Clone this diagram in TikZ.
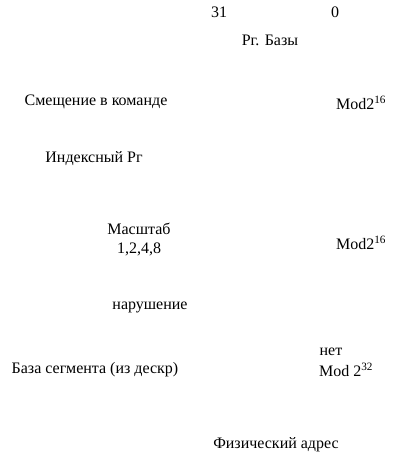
\documentclass[tikz,border=0pt]{standalone}
\usepackage{fontspec}
\setmainfont{Liberation Serif}
\usepackage{xcolor}
\definecolor{cText}{HTML}{000000}
\usetikzlibrary{positioning}
\tikzset{
  node-lbl/.style={inner sep=0pt,text=cText,align=center,font=\fontsize{16}{19}\selectfont},
  node-bit/.style={node-lbl},
}

\begin{document}
\begin{tikzpicture}[x=1pt,y=-1pt]
  \useasboundingbox (0,0) rectangle (406,466);
  \node[node-bit] (b31) at (219,12) {31};
  \node[node-bit] (b0)  at (335,12) {0};
  \node[node-lbl] (base) at (270,40) {Рг. Базы};
  \node[node-lbl] (disp) at (96,102) {Смещение в команде};
  \node[node-lbl] (mod1) at (361,103) {Mod2\textsuperscript{16}};
  \node[node-lbl] (idx)  at (94,159) {Индексный Рг};
  \node[node-lbl] (scale) at (139,240) {Масштаб\\1,2,4,8};
  \node[node-lbl] (mod2) at (361,243) {Mod2\textsuperscript{16}};
  \node[node-lbl] (viol) at (150,307) {нарушение};
  \node[node-lbl] (no)   at (331,352) {нет};
  \node[node-lbl] (seg)  at (95,370) {База сегмента (из дескр)};
  \node[node-lbl] (mod3) at (346,370) {Mod 2\textsuperscript{32}};
  \node[node-lbl] (phys) at (276,445) {Физический адрес};
\end{tikzpicture}
\end{document}
